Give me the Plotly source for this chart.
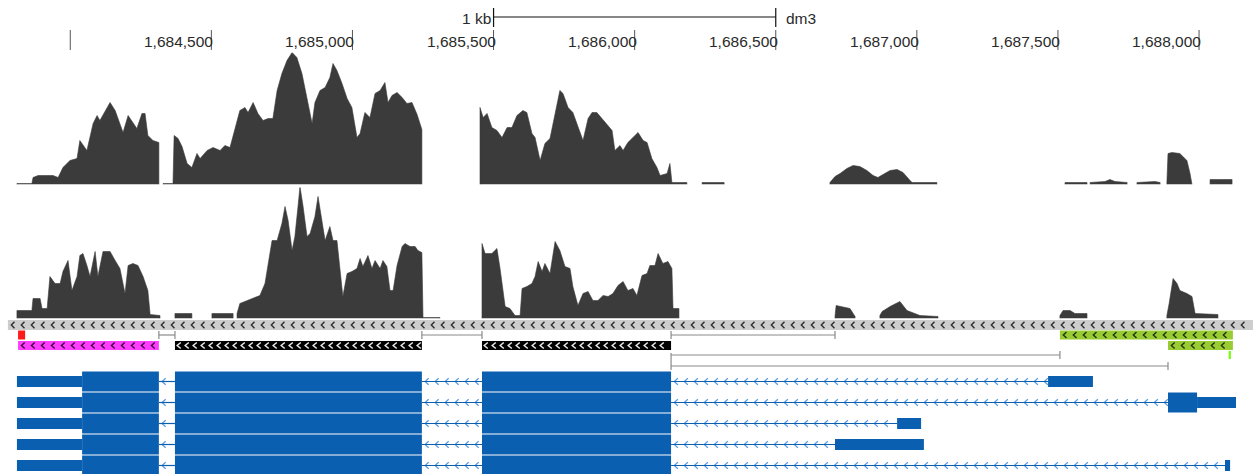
import plotly.graph_objects as go

# ---- genomic window and ruler ----
VIEW_START, VIEW_END = 1683751, 1688216

ruler_ticks = [1684000, 1684500, 1685000, 1685500, 1686000, 1686500, 1687000, 1687500, 1688000]
ruler_labels = ["", "1,684,500", "1,685,000", "1,685,500", "1,686,000",
                "1,686,500", "1,687,000", "1,687,500", "1,688,000"]
scale_bar = [1685500, 1686500]
scale_text = "1 kb"
assembly = "dm3"

# ---- read coverage (segments separated by None) ----
cov1_pos = [
    1683811, 1683864, 1683868, 1683886, 1683939, 1683957, 1683974, 1683999, 1684024, 1684034,
    1684059, 1684081, 1684095, 1684105, 1684130, 1684141, 1684159, 1684176, 1684187, 1684205,
    1684222, 1684236, 1684254, 1684265, 1684275, 1684293, 1684314, None,
    1684329, 1684364, 1684368, 1684382, 1684396, 1684414, 1684431, 1684449, 1684460, 1684485,
    1684506, 1684531, 1684548, 1684566, 1684584, 1684601, 1684619, 1684630, 1684648, 1684665,
    1684683, 1684701, 1684718, 1684733, 1684750, 1684768, 1684786, 1684803, 1684821, 1684839,
    1684857, 1684867, 1684885, 1684903, 1684920, 1684931, 1684945, 1684963, 1684981, 1684998,
    1685016, 1685027, 1685044, 1685062, 1685080, 1685098, 1685115, 1685126, 1685140, 1685158,
    1685176, 1685193, 1685211, 1685229, 1685246, None,
    1685452, 1685463, 1685477, 1685494, 1685512, 1685530, 1685548, 1685565, 1685583, 1685604,
    1685618, 1685636, 1685647, 1685665, 1685682, 1685700, 1685718, 1685735, 1685746, 1685764,
    1685781, 1685799, 1685817, 1685835, 1685849, 1685866, 1685884, 1685902, 1685920, 1685930,
    1685948, 1685959, 1685976, 1685994, 1686012, 1686030, 1686044, 1686061, 1686079, 1686090,
    1686115, 1686125, 1686132, 1686185, None,
    1686239, 1686317, None,
    1686692, 1686710, 1686728, 1686752, 1686774, 1686798, 1686823, 1686845, 1686862, 1686880,
    1686905, 1686930, 1686951, 1686976, 1686983, 1687071, None,
    1687525, 1687603, None,
    1687614, 1687667, 1687684, 1687702, 1687745, None,
    1687780, 1687844, 1687862, None,
    1687886, 1687890, 1687904, 1687932, 1687957, 1687968, 1687975, None,
    1688039, 1688117,
]
cov1_depth = [
    1, 1, 7, 9, 9, 7, 17, 24, 26, 44,
    34, 61, 69, 64, 77, 82, 74, 61, 52, 69,
    62, 56, 71, 71, 49, 44, 42, None,
    1, 1, 49, 46, 38, 21, 17, 31, 26, 34,
    37, 34, 39, 37, 57, 74, 77, 72, 82, 71,
    64, 66, 66, 94, 111, 124, 132, 127, 111, 87,
    61, 82, 94, 97, 107, 121, 114, 101, 86, 77,
    47, 51, 72, 67, 91, 94, 102, 82, 89, 92,
    87, 81, 82, 70, 55, None,
    77, 67, 71, 57, 54, 47, 57, 57, 69, 74,
    72, 51, 47, 24, 41, 46, 69, 94, 91, 77,
    72, 57, 44, 66, 72, 72, 66, 61, 54, 34,
    39, 34, 42, 47, 52, 44, 42, 26, 17, 9,
    11, 21, 2, 2, None,
    2, 2, None,
    2, 8, 11, 16, 19, 18, 14, 9, 7, 10,
    14, 15, 12, 4, 2, 2, None,
    2, 2, None,
    2, 3, 5, 3, 2, None,
    2, 3, 2, None,
    2, 31, 32, 31, 24, 11, 2, None,
    5, 5,
]

cov2_pos = [
    1683811, 1683864, 1683868, 1683893, 1683900, 1683918, 1683928, 1683946, 1683964, 1683974,
    1683992, 1684006, 1684024, 1684034, 1684045, 1684059, 1684070, 1684088, 1684098, 1684116,
    1684141, 1684159, 1684176, 1684194, 1684205, 1684222, 1684240, 1684258, 1684275, 1684283,
    1684318, None,
    1684371, 1684431, None,
    1684502, 1684577, None,
    1684591, 1684601, 1684626, 1684648, 1684672, 1684690, 1684701, 1684715, 1684733, 1684750,
    1684761, 1684772, 1684786, 1684796, 1684807, 1684814, 1684825, 1684839, 1684850, 1684867,
    1684878, 1684892, 1684903, 1684920, 1684931, 1684945, 1684956, 1684966, 1684981, 1684998,
    1685016, 1685027, 1685037, 1685055, 1685069, 1685080, 1685098, 1685108, 1685122, 1685133,
    1685144, 1685158, 1685176, 1685186, 1685204, 1685222, 1685232, 1685246, 1685250, 1685310, None,
    1685459, 1685470, 1685494, 1685512, 1685523, 1685541, 1685558, 1685576, 1685594, 1685601,
    1685618, 1685636, 1685647, 1685658, 1685672, 1685682, 1685700, 1685718, 1685735, 1685753,
    1685771, 1685781, 1685799, 1685817, 1685835, 1685852, 1685870, 1685888, 1685906, 1685923,
    1685941, 1685959, 1685976, 1685994, 1686008, 1686026, 1686044, 1686054, 1686072, 1686083,
    1686100, 1686118, 1686132, 1686136, 1686157, None,
    1686710, 1686714, 1686752, 1686763, 1686781, None,
    1686869, 1686877, 1686905, 1686940, 1686965, 1687011, 1687075, None,
    1687507, 1687518, 1687543, 1687560, 1687603, None,
    1687886, 1687894, 1687908, 1687922, 1687932, 1687957, 1687975, 1687986, 1688067,
]
cov2_depth = [
    8, 8, 20, 20, 10, 10, 42, 35, 35, 47,
    58, 28, 42, 63, 65, 53, 42, 67, 42, 67,
    67, 58, 50, 25, 53, 55, 53, 42, 28, 4,
    3, None,
    5, 5, None,
    5, 5, None,
    5, 15, 18, 20, 23, 35, 55, 78, 78, 95,
    112, 98, 68, 82, 112, 132, 112, 82, 85, 102,
    122, 95, 78, 92, 78, 78, 48, 22, 45, 47,
    50, 60, 52, 63, 50, 58, 50, 58, 52, 28,
    28, 53, 72, 75, 72, 72, 68, 66, 1, 1, None,
    75, 65, 65, 70, 50, 12, 10, 3, 3, 30,
    32, 35, 42, 57, 47, 55, 45, 77, 68, 52,
    50, 32, 13, 25, 27, 18, 18, 23, 22, 25,
    33, 37, 28, 30, 23, 43, 45, 53, 53, 65,
    55, 57, 50, 10, 10, None,
    2, 13, 11, 10, 2, None,
    3, 7, 12, 17, 8, 3, 2, None,
    3, 8, 8, 5, 5, None,
    3, 15, 40, 35, 28, 25, 22, 5, 4,
]

# ---- region / feature tracks ----
region_span = [1683779, 1688191]
red_mark = [1683815, 1683840]
magenta_block = [1683815, 1684314]
black_blocks = [[1684371, 1685246], [1685459, 1686129]]
block_links = [[1684314, 1684371], [1685246, 1685459], [1686129, 1686710]]
long_links = [[1686129, 1687507], [1686129, 1687890]]
green_blocks = [[1687507, 1688120], [1687890, 1688120]]
lime_mark = [1688105, 1688113]

# ---- transcript models (minus strand) ----
utr3 = [1683811, 1684042]
cds_exons = [[1684042, 1684314], [1684371, 1685246], [1685459, 1686129]]
iso_cds5 = [[], [[1687890, 1687993]], [], [], []]
iso_utr5 = [[[1687465, 1687624]], [[1687993, 1688131]], [[1686930, 1687015]],
            [[1686710, 1687025]], [[1688092, 1688110]]]

# ---- styling ----
FONT = "Liberation Sans, Arial, Helvetica, sans-serif"
COV_COLOR = "#3b3b3b"
GENE_BLUE = "#0a5fb0"
INTRON_ARROW = "#5a9ade"
BP_PER_PX = (VIEW_END - VIEW_START) / 1260.0

# vertical layout of the annotation panel (screen rows, top = 0)
RULER_TICK = (30, 50)
RULER_TEXT_Y = 41.5
SCALE_Y, SCALE_TICK = 17, (8, 27)
STRAND_BAR = (320, 330)
UPPER_LANE = (330.5, 339.5)
LOWER_LANE = (341, 350)
LINK_Y = 335
LONG_LINK_Y = [355, 366]
LIME_LANE = (351, 359)
ROW0, ROW_PITCH = 381.5, 21
THICK_H, THIN_H = 10, 5.5

fig = go.Figure()
shapes = []
annotations = []


def rect(x0, x1, y0, y1, color):
    shapes.append(dict(type="rect", xref="x", yref="y", x0=x0, x1=x1, y0=y0, y1=y1,
                       fillcolor=color, line=dict(width=0), layer="below"))


def chevrons(start, end, yc, step_px, half_w_px, half_h):
    xs, ys = [], []
    step = step_px * BP_PER_PX
    hw = half_w_px * BP_PER_PX
    c = start + step / 2
    while c + hw < end:
        xs += [c + hw, c - hw, c + hw, None]
        ys += [yc - half_h, yc, yc + half_h, None]
        c += step
    return xs, ys


def add_lines(xs, ys, color, width, yaxis="y"):
    fig.add_trace(go.Scatter(x=xs, y=ys, mode="lines", yaxis=yaxis,
                             line=dict(color=color, width=width),
                             hoverinfo="skip", showlegend=False))


def segments(pos, depth):
    """Split the None-separated coverage lists into closed polygons."""
    out, seg = [], []
    for p, d in zip(pos + [None], depth + [None]):
        if p is None:
            if seg:
                xs = [seg[0][0]] + [s[0] for s in seg] + [seg[-1][0]]
                ys = [0] + [s[1] for s in seg] + [0]
                out.append((xs, ys))
            seg = []
        else:
            seg.append((p, d))
    return out


# coverage tracks
for pos, depth, ax in [(cov1_pos, cov1_depth, "y2"), (cov2_pos, cov2_depth, "y3")]:
    for xs, ys in segments(pos, depth):
        fig.add_trace(go.Scatter(x=xs, y=ys, mode="lines", yaxis=ax,
                                 fill="toself", fillcolor=COV_COLOR,
                                 line=dict(color=COV_COLOR, width=0.6),
                                 hoverinfo="skip", showlegend=False))

# ruler ticks and labels
tx, ty = [], []
for t, lab in zip(ruler_ticks, ruler_labels):
    tx += [t, t, None]
    ty += [RULER_TICK[0], RULER_TICK[1], None]
    if lab:
        annotations.append(dict(x=t, y=RULER_TEXT_Y, xref="x", yref="y", text=lab,
                                showarrow=False, xanchor="right", yanchor="middle",
                                borderpad=0, xshift=3,
                                font=dict(family=FONT, size=15.5, color="#2a2a2a")))
add_lines(tx, ty, "#555555", 1)

# scale bar
add_lines([scale_bar[0], scale_bar[1], None, scale_bar[0], scale_bar[0], None,
           scale_bar[1], scale_bar[1]],
          [SCALE_Y, SCALE_Y, None, SCALE_TICK[0], SCALE_TICK[1], None,
           SCALE_TICK[0], SCALE_TICK[1]], "#111111", 1.2)
annotations.append(dict(x=scale_bar[0], y=SCALE_Y + 1.5, xref="x", yref="y", text=scale_text,
                        showarrow=False, xanchor="right", yanchor="middle", borderpad=0,
                        xshift=-2, font=dict(family=FONT, size=15.5, color="#2a2a2a")))
annotations.append(dict(x=scale_bar[1], y=SCALE_Y + 1.5, xref="x", yref="y", text=assembly,
                        showarrow=False, xanchor="left", yanchor="middle", borderpad=0,
                        xshift=9, font=dict(family=FONT, size=15.5, color="#2a2a2a")))

# strand bar spanning the window
rect(region_span[0], region_span[1], STRAND_BAR[0], STRAND_BAR[1], "#cdcdcd")
cx, cy = chevrons(region_span[0], region_span[1], sum(STRAND_BAR) / 2, 10, 1.6, 3.2)
add_lines(cx, cy, "#2e2e2e", 1.4)

# red marker and magenta block
rect(red_mark[0], red_mark[1], UPPER_LANE[0], UPPER_LANE[1], "#ff1a1a")
rect(magenta_block[0], magenta_block[1], LOWER_LANE[0], LOWER_LANE[1], "#ff3cff")
cx, cy = chevrons(magenta_block[0], magenta_block[1], sum(LOWER_LANE) / 2, 10, 1.6, 3.0)
add_lines(cx, cy, "#3a0a3a", 1.4)

# black blocks with white chevrons
for s, e in black_blocks:
    rect(s, e, LOWER_LANE[0], LOWER_LANE[1], "#000000")
    cx, cy = chevrons(s, e, sum(LOWER_LANE) / 2, 8, 1.8, 3.0)
    add_lines(cx, cy, "#e6e6e6", 1.5)

# thin links between blocks
lx, ly = [], []
for s, e in block_links:
    lx += [s, e, None, s, s, None, e, e, None]
    ly += [LINK_Y, LINK_Y, None, LINK_Y - 4, LINK_Y + 4, None, LINK_Y - 4, LINK_Y + 4, None]
for (s, e), y in zip(long_links, LONG_LINK_Y):
    lx += [s, e, None, e, e, None]
    ly += [y, y, None, y - 4, y + 4, None]
lx += [long_links[0][0], long_links[0][0], None]
ly += [LONG_LINK_Y[0] - 2, LONG_LINK_Y[1] + 4, None]
add_lines(lx, ly, "#8a8a8a", 1.2)

# green blocks
for (s, e), lane in zip(green_blocks, [UPPER_LANE, LOWER_LANE]):
    rect(s, e, lane[0], lane[1], "#99cc33")
    cx, cy = chevrons(s, e, sum(lane) / 2, 10, 1.6, 3.0)
    add_lines(cx, cy, "#23330c", 1.4)
rect(lime_mark[0], lime_mark[1], LIME_LANE[0], LIME_LANE[1], "#77ff11")

# transcript models
for i in range(len(iso_utr5)):
    yc = ROW0 + i * ROW_PITCH
    blocks = [(utr3[0], utr3[1], THIN_H)]
    blocks += [(s, e, THICK_H) for s, e in cds_exons]
    blocks += [(s, e, THICK_H) for s, e in iso_cds5[i]]
    blocks += [(s, e, THIN_H) for s, e in iso_utr5[i]]
    blocks.sort()
    ix, iy, ax_, ay_ = [], [], [], []
    for (s0, e0, _), (s1, e1, _) in zip(blocks[:-1], blocks[1:]):
        if s1 > e0:
            ix += [e0, s1, None]
            iy += [yc, yc, None]
            cx, cy = chevrons(e0, s1, yc, 10, 1.8, 3.2)
            ax_ += cx
            ay_ += cy
    add_lines(ax_, ay_, INTRON_ARROW, 1.2)
    add_lines(ix, iy, GENE_BLUE, 1.2)
    for s, e, h in blocks:
        rect(s, e, yc - h, yc + h, GENE_BLUE)

fig.update_layout(
    width=1260, height=474,
    margin=dict(l=0, r=0, t=0, b=0),
    paper_bgcolor="white", plot_bgcolor="rgba(0,0,0,0)",
    showlegend=False,
    shapes=shapes, annotations=annotations,
    xaxis=dict(range=[VIEW_START, VIEW_END], visible=False, fixedrange=True),
    yaxis=dict(domain=[0, 1], range=[474, 0], visible=False, fixedrange=True),
    yaxis2=dict(domain=[1 - 184.5 / 474, 1 - 52.5 / 474], range=[0, 132],
                visible=False, anchor="x", fixedrange=True),
    yaxis3=dict(domain=[1 - 318.5 / 474, 1 - 187.5 / 474], range=[0, 131],
                visible=False, anchor="x", fixedrange=True),
)

fig.write_html("out.html")
